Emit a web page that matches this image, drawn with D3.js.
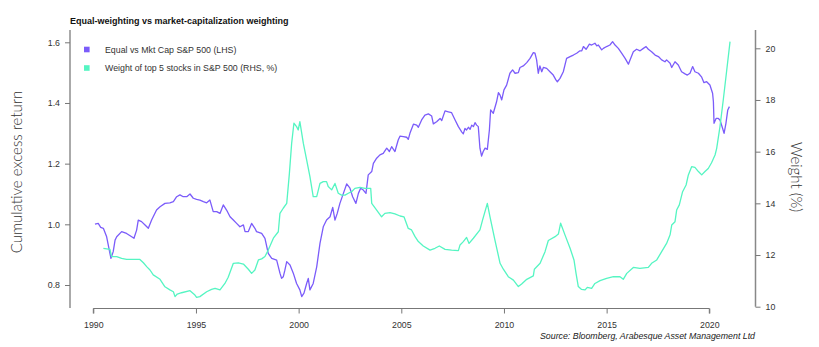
<!DOCTYPE html>
<html><head><meta charset="utf-8">
<script src="https://cdn.jsdelivr.net/npm/d3@7"></script>
<style>body{margin:0;background:#fff}svg{display:block}</style>
</head><body>
<svg id="c" width="819" height="347"></svg>
<script>
const title = "Equal-weighting vs market-capitalization weighting";
const seriesNames = ["Equal vs Mkt Cap S&P 500 (LHS)", "Weight of top 5 stocks in S&P 500 (RHS, %)"];
const seriesColors = ["#7b5cfa", "#55f5c2"];
const xTicks = [1990, 1995, 2000, 2005, 2010, 2015, 2020];
const leftTicks = [0.8, 1.0, 1.2, 1.4, 1.6];
const rightTicks = [10, 12, 14, 16, 18, 20];
const leftTitle = "Cumulative excess return";
const rightTitle = "Weight (%)";
const sourceText = "Source: Bloomberg, Arabesque Asset Management Ltd";

const eqYears = [1990.08,1990.24,1990.36,1990.49,1990.65,1990.81,1990.86,1990.97,1991.06,1991.14,1991.38,1991.62,1991.87,1991.98,1992.11,1992.19,1992.35,1992.52,1992.68,1992.84,1993.08,1993.25,1993.49,1993.73,1993.90,1994.06,1994.22,1994.38,1994.55,1994.71,1994.87,1995.03,1995.19,1995.36,1995.52,1995.68,1995.84,1996.01,1996.17,1996.33,1996.49,1996.66,1996.82,1996.98,1997.14,1997.31,1997.39,1997.55,1997.71,1997.87,1997.95,1998.20,1998.36,1998.52,1998.69,1998.93,1999.09,1999.17,1999.25,1999.33,1999.42,1999.58,1999.74,1999.90,2000.06,2000.15,2000.26,2000.39,2000.47,2000.55,2000.71,2000.88,2001.04,2001.20,2001.36,2001.53,2001.66,2001.77,2001.88,2002.01,2002.18,2002.34,2002.50,2002.63,2002.79,2002.91,2003.02,2003.15,2003.28,2003.39,2003.56,2003.64,2003.80,2003.96,2004.12,2004.29,2004.42,2004.53,2004.69,2004.85,
2004.94,2005.10,2005.26,2005.34,2005.42,2005.59,2005.75,2005.83,2005.99,2006.15,2006.32,2006.48,2006.56,2006.72,2006.89,2006.97,2007.13,2007.29,2007.45,2007.62,2007.78,2007.94,2008.02,2008.10,2008.18,2008.27,2008.35,2008.43,2008.51,2008.59,2008.67,2008.75,2008.83,2008.91,2008.99,2009.08,2009.19,2009.29,2009.35,2009.48,2009.64,2009.73,2009.81,2009.89,2010.00,2010.13,2010.29,2010.42,2010.54,2010.70,2010.78,2010.94,2011.11,2011.27,2011.43,2011.51,2011.59,2011.67,2011.75,2011.84,2011.92,2012.08,2012.24,2012.40,2012.53,2012.60,2012.73,2012.89,2013.05,2013.22,2013.38,2013.54,2013.70,2013.79,2013.87,2014.00,2014.16,2014.27,2014.43,2014.52,2014.60,2014.76,2014.84,2015.00,2015.16,2015.29,2015.41,2015.57,2015.73,2015.90,2016.06,2016.14,2016.30,2016.46,2016.63,2016.79,2016.92,2017.03,2017.19,2017.36,2017.52,2017.68,2017.84,2017.92,2018.09,2018.17,2018.33,2018.49,2018.65,2018.82,2018.93,2019.06,2019.19,2019.30,2019.47,2019.63,2019.74,2019.87,2020.03,2020.16,2020.20,2020.23,2020.33,2020.44,2020.52,2020.65,2020.72,2020.81,2020.90,2020.98];
const eqValues = [1.001,1.003,0.990,0.987,0.959,0.904,0.888,0.910,0.948,0.959,0.976,0.970,0.959,0.954,0.981,1.014,1.009,0.998,0.987,1.014,1.047,1.058,1.069,1.071,1.075,1.091,1.097,1.091,1.091,1.100,1.086,1.082,1.080,1.075,1.071,1.080,1.042,1.042,1.036,1.064,1.047,1.025,1.014,1.003,0.992,0.998,0.976,0.976,1.003,0.987,0.976,0.970,0.954,0.904,0.888,0.882,0.839,0.822,0.827,0.849,0.877,0.866,0.839,0.805,0.784,0.762,0.773,0.805,0.822,0.784,0.805,0.860,0.937,0.992,1.014,1.025,1.056,1.014,1.036,1.069,1.102,1.133,1.119,1.091,1.069,1.102,1.119,1.113,1.102,1.163,1.174,1.201,1.218,1.229,1.234,1.251,1.240,1.256,1.240,1.278,
1.291,1.289,1.287,1.280,1.300,1.330,1.327,1.320,1.344,1.360,1.364,1.357,1.331,1.338,1.349,1.342,1.374,1.371,1.368,1.344,1.322,1.305,1.298,1.316,1.311,1.320,1.313,1.327,1.322,1.335,1.327,1.322,1.251,1.225,1.240,1.251,1.247,1.311,1.377,1.366,1.404,1.434,1.426,1.410,1.443,1.459,1.498,1.509,1.498,1.500,1.517,1.522,1.533,1.547,1.566,1.564,1.542,1.498,1.522,1.503,1.517,1.514,1.503,1.492,1.476,1.470,1.481,1.503,1.547,1.553,1.558,1.564,1.572,1.572,1.586,1.577,1.594,1.591,1.597,1.588,1.591,1.575,1.580,1.586,1.591,1.602,1.591,1.580,1.564,1.547,1.528,1.542,1.569,1.577,1.572,1.580,1.586,1.577,1.569,1.558,1.553,1.542,1.536,1.542,1.531,1.517,1.536,1.525,1.503,1.496,1.492,1.498,1.520,1.503,1.498,1.485,1.467,1.470,1.459,1.432,1.404,1.333,1.349,1.349,1.344,1.316,1.300,1.333,1.377,1.388];

const topYears = [1990.49,1990.81,1990.89,1991.14,1991.38,1991.62,1991.95,1992.27,1992.44,1992.60,1992.76,1992.92,1993.25,1993.49,1993.73,1993.90,1993.98,1994.09,1994.30,1994.71,1994.95,1995.03,1995.19,1995.52,1995.76,1995.93,1996.17,1996.41,1996.57,1996.82,1997.06,1997.31,1997.55,1997.71,1997.87,1998.04,1998.20,1998.36,1998.52,1998.77,1999.01,1999.09,1999.25,1999.42,1999.55,1999.66,1999.77,1999.90,1999.98,2000.06,2000.23,2000.39,2000.55,2000.71,2000.88,2001.04,2001.20,2001.36,2001.44,2001.61,2001.77,2001.93,2002.09,2002.26,2002.42,2002.58,2002.74,2002.99,2003.23,2003.51,2003.56,2003.80,2004.04,2004.20,2004.45,2004.69,
2004.94,2005.13,2005.34,2005.50,2005.67,2005.83,2006.07,2006.40,2006.64,2006.85,2007.13,2007.45,2007.78,2007.86,2008.02,2008.18,2008.30,2008.51,2008.83,2008.96,2009.19,2009.32,2009.56,2009.81,2009.97,2010.21,2010.46,2010.70,2010.86,2011.11,2011.43,2011.48,2011.76,2012.00,2012.16,2012.49,2012.65,2012.76,2012.97,2013.22,2013.41,2013.51,2013.62,2013.78,2013.95,2014.06,2014.27,2014.43,2014.68,2015.00,2015.33,2015.65,2015.81,2015.98,2016.30,2016.62,2017.03,2017.19,2017.44,2017.68,2017.92,2018.09,2018.17,2018.33,2018.41,2018.54,2018.70,2018.87,2018.98,2019.14,2019.30,2019.47,2019.63,2019.79,2019.95,2020.11,2020.28,2020.36,2020.52,2020.68,2020.85,2021.01];
const topValues = [12.26,12.22,11.94,11.94,11.87,11.83,11.83,11.83,11.70,11.55,11.42,11.23,11.06,10.77,10.65,10.58,10.39,10.49,10.54,10.62,10.45,10.36,10.39,10.58,10.67,10.71,10.65,10.90,11.14,11.68,11.70,11.65,11.45,11.29,11.42,11.81,11.85,11.94,12.19,12.65,12.90,13.61,13.81,14.00,15.16,16.32,17.10,16.97,16.84,17.16,16.32,15.68,15.03,14.26,14.26,14.77,14.84,14.84,14.65,14.52,14.77,14.39,14.32,14.32,14.39,14.45,14.58,14.62,14.58,14.58,14.00,13.74,13.48,13.61,13.64,13.59,
13.51,13.48,13.03,12.97,12.71,12.52,12.35,12.19,12.26,12.35,12.22,12.19,12.17,12.39,12.52,12.68,12.45,12.65,12.97,13.36,14.00,13.48,12.58,11.68,11.45,11.16,11.03,10.78,10.88,11.06,11.19,11.45,11.68,12.13,12.56,12.71,12.81,13.23,12.78,12.26,11.81,11.29,10.78,10.67,10.65,10.75,10.71,10.90,11.01,11.10,11.16,11.16,11.06,11.29,11.52,11.48,11.52,11.68,11.81,12.13,12.45,12.78,13.16,13.29,13.74,13.94,14.45,14.71,15.10,15.42,15.39,15.23,15.10,15.23,15.35,15.57,15.87,16.13,16.97,18.00,19.16,20.26];

const svg = d3.select("#c");
const FONT = "'Liberation Sans', Arial, sans-serif";
const x = d3.scaleLinear().domain([1990, 2020]).range([93.3, 709.3]);
const yL = d3.scaleLinear().domain([0.8, 1.6]).range([285, 42.3]);
const yR = d3.scaleLinear().domain([10, 20]).range([306.7, 48.3]);

// title
svg.append("text").attr("x", 70).attr("y", 24).attr("font-family", FONT)
  .attr("font-weight", "bold").attr("font-size", 9).attr("fill", "#111").text(title);

// X axis
const gx = svg.append("g").attr("transform", "translate(0,308.5)")
  .call(d3.axisBottom(x).tickValues(xTicks).tickFormat(d3.format("d")).tickSize(5).tickPadding(8));
gx.select(".domain").attr("d", `M${x(1990)},5V0H${x(2020)}V5`).attr("stroke", "#777");
gx.selectAll(".tick line").attr("stroke", "#777");
gx.selectAll("text").attr("font-family", FONT).attr("font-size", 8.8).attr("fill", "#333");

// Left axis
const gl = svg.append("g").attr("transform", "translate(70,0)")
  .call(d3.axisLeft(yL).tickValues(leftTicks).tickFormat(d3.format(".1f")).tickSize(5).tickPadding(5));
gl.select(".domain").attr("d", `M0,30V308`).attr("stroke", "#aaa").attr("stroke-width", 2);
gl.selectAll(".tick line").attr("stroke", "#777");
gl.selectAll("text").attr("font-family", FONT).attr("font-size", 8.8).attr("fill", "#333");

// Right axis
const gr = svg.append("g").attr("transform", "translate(755.5,0)")
  .call(d3.axisRight(yR).tickValues(rightTicks).tickFormat(d3.format("d")).tickSize(5).tickPadding(5));
gr.select(".domain").attr("d", `M0,30V${yR(10)}`).attr("stroke", "#888").attr("stroke-width", 1.5);
gr.selectAll(".tick line").attr("stroke", "#777");
gr.selectAll("text").attr("font-family", FONT).attr("font-size", 8.8).attr("fill", "#333");

// axis titles
svg.append("text").attr("transform", "translate(22,172) rotate(-90)").attr("text-anchor", "middle")
  .attr("font-family", "Lato, 'Open Sans', sans-serif").attr("font-weight", 300).attr("font-size", 15)
  .attr("fill", "#333").text(leftTitle);
svg.append("text").attr("transform", "translate(791,177) rotate(90)").attr("text-anchor", "middle")
  .attr("font-family", "Lato, 'Open Sans', sans-serif").attr("font-weight", 300).attr("font-size", 15)
  .attr("fill", "#333").text(rightTitle);

// lines
const eqData = eqYears.map((d, i) => [d, eqValues[i]]);
const topData = topYears.map((d, i) => [d, topValues[i]]);
svg.append("path").datum(eqData).attr("fill", "none").attr("stroke", seriesColors[0]).attr("stroke-width", 1.3)
  .attr("stroke-linejoin", "round")
  .attr("d", d3.line().x(d => x(d[0])).y(d => yL(d[1])));
svg.append("path").datum(topData).attr("fill", "none").attr("stroke", seriesColors[1]).attr("stroke-width", 1.3)
  .attr("stroke-linejoin", "round")
  .attr("d", d3.line().x(d => x(d[0])).y(d => yR(d[1])));

// legend
const lg = svg.append("g");
seriesNames.forEach((n, i) => {
  const cy = 49.5 + i * 18.5;
  lg.append("rect").attr("x", 84).attr("y", cy - 2.8).attr("width", 5.6).attr("height", 5.6).attr("fill", seriesColors[i]);
  lg.append("text").attr("x", 105).attr("y", cy + 3).attr("font-family", FONT).attr("font-size", 8.8)
    .attr("fill", "#333").text(n);
});

// source
svg.append("text").attr("x", 755).attr("y", 339).attr("text-anchor", "end").attr("font-family", FONT)
  .attr("font-style", "italic").attr("font-size", 8.8).attr("fill", "#222").text(sourceText);
</script>
</body></html>
